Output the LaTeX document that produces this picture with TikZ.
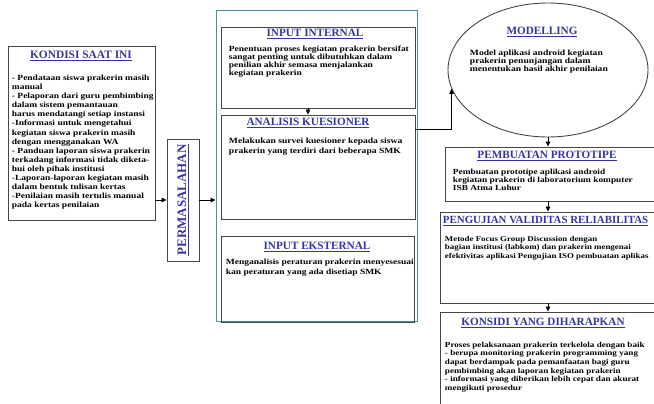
\documentclass[tikz,border=0pt]{standalone}
\usepackage{fontspec}
\setmainfont{Liberation Serif}
\newfontfamily\widefont[FakeStretch=1.2]{Liberation Serif}
\usetikzlibrary{shapes.geometric,arrows.meta}
\definecolor{ttlblue}{RGB}{52,52,165}
\definecolor{frameteal}{RGB}{70,145,160}
\definecolor{boxgray}{RGB}{70,70,70}
\tikzset{
  box/.style={draw=boxgray, line width=0.9pt, rectangle, inner sep=0pt},
  ttl/.style={text=ttlblue, font=\bfseries\fontsize{11.2}{12}\selectfont, inner sep=0.75pt},
  body/.style={anchor=north west, align=left, inner sep=0.75pt, font=\widefont\bfseries\fontsize{8}{8.2}\selectfont},
  arr/.style={draw=black, line width=0.7pt, -{Triangle[length=5pt,width=4.5pt]}}
}
\begin{document}
\begin{tikzpicture}[x=1pt,y=1pt,yscale=-1,xscale=1]
    \useasboundingbox (0,0) rectangle (654,404);
    \clip (0,0) rectangle (654,404);
    %Shape: Rectangle [kondisi]
    \node [box, minimum width=147pt, minimum height=174pt] (kondisi) at (81.5,133) {};
    %Shape: Rectangle [masalah]
    \node [box, minimum width=32pt, minimum height=122pt] (masalah) at (183,200) {};
    %Shape: Rectangle [outer frame]
    \node [draw=frameteal, line width=1pt, rectangle, inner sep=0pt, minimum width=201pt, minimum height=310pt] (frame) at (316.5,166) {};
    %Shape: Rectangle [internal]
    \node [box, minimum width=194pt, minimum height=81pt] (internal) at (318,67.5) {};
    %Shape: Rectangle [analisis]
    \node [box, minimum width=194pt, minimum height=104pt] (analisis) at (318,167) {};
    %Shape: Rectangle [eksternal]
    \node [box, minimum width=193pt, minimum height=86pt] (eksternal) at (317.5,279) {};
    %Shape: Ellipse [modelling]
    \node [ellipse, draw=boxgray, line width=0.9pt, inner sep=0pt, minimum width=200pt, minimum height=134pt] (modelling) at (548,70) {};
    %Shape: Rectangle [prototipe]
    \node [box, minimum width=217pt, minimum height=54pt] (prototipe) at (553.5,174) {};
    %Shape: Rectangle [pengujian]
    \node [box, minimum width=222pt, minimum height=91pt] (pengujian) at (551,257.5) {};
    %Shape: Rectangle [konsidi]
    \node [box, minimum width=222pt, minimum height=100pt] (konsidi) at (551,362) {};

    %Straight Lines
    \draw [arr] (kondisi.east |- masalah.west) -- (masalah.west);
    \draw [arr] (masalah.east) -- (masalah.east -| frame.west);
    \draw [arr] ([xshift=-10pt]internal.south) -- ([xshift=-10pt]internal.south |- analisis.north);
    \draw [arr] ([yshift=-38pt]analisis.east) -| (modelling.191);
    \draw [arr] (modelling.south) -- (modelling.south |- prototipe.north);
    \draw [arr] (modelling.south |- prototipe.south) -- (modelling.south |- pengujian.north);
    \draw [arr] (modelling.south |- pengujian.south) -- (modelling.south |- konsidi.north);

    % Text Node
    \node [ttl, font=\bfseries\fontsize{11.4}{12}\selectfont] (kondisittl) at (81,56) {\underline{KONDISI SAAT INI}};
    % Text Node
    \node [body, font=\widefont\bfseries\fontsize{7.9}{9.1}\selectfont] (kondisitxt) at (11,74) {- Pendataan siswa prakerin masih\\
    manual\\
    - Pelaporan dari guru pembimbing\\
    dalam sistem pemantauan\\
    harus mendatangi setiap instansi\\
    -Informasi untuk mengetahui\\
    kegiatan siswa prakerin masih\\
    dengan mengganakan WA\\
    - Panduan laporan siswa prakerin\\
    terkadang informasi tidak diketa-\\
    hui oleh pihak institusi\\
    -Laporan-laporan kegiatan masih\\
    dalam bentuk tulisan kertas\\
    -Penilaian masih tertulis manual\\
    pada kertas penilaian};
    % Text Node
    \node [ttl, rotate=90, font=\bfseries\fontsize{13}{14}\selectfont] (masalahttl) at (masalah) {\underline{PERMASALAHAN}};
    % Text Node
    \node [ttl] (internalttl) at (315,34) {\underline{INPUT INTERNAL}};
    % Text Node
    \node [body, font=\widefont\bfseries\fontsize{7.9}{7.9}\selectfont] (internaltxt) at (228,45) {Penentuan proses kegiatan prakerin bersifat\\
    sangat penting untuk dibutuhkan dalam\\
    penilian akhir semasa menjalankan\\
    kegiatan prakerin};
    % Text Node
    \node [ttl] (analisisttl) at (308,123) {\underline{ANALISIS KUESIONER}};
    % Text Node
    \node [body, font=\widefont\bfseries\fontsize{8}{10}\selectfont] (analisistxt) at (228,137) {Melakukan survei kuesioner kepada siswa\\
    prakerin yang terdiri dari beberapa SMK};
    % Text Node
    \node [body, font=\widefont\bfseries\fontsize{7.9}{10}\selectfont] (eksternaltxt) at (225,258) {Menganalisis peraturan prakerin menyesesuai\\
    kan peraturan yang ada disetiap SMK};
    % Text Node
    \node [ttl] (eksternalttl) at (317,247) {\underline{INPUT EKSTERNAL}};
    % Text Node
    \node [ttl] (modellingttl) at (542,32) {\underline{MODELLING}};
    % Text Node
    \node [body] (modellingtxt) at (469,49) {Model aplikasi android kegiatan\\
    prakerin penunjangan dalam\\
    menentukan hasil akhir penilaian};
    % Text Node
    \node [ttl] (prototipettl) at (547,156) {\underline{PEMBUATAN PROTOTIPE}};
    % Text Node
    \node [body, font=\widefont\bfseries\fontsize{7.8}{8.1}\selectfont] (prototipetxt) at (452,168) {Pembuatan prototipe aplikasi android\\
    kegiatan prakerin di laboratorium komputer\\
    ISB Atma Luhur};
    % Text Node
    \node [ttl, anchor=west, font=\bfseries\fontsize{10.9}{12}\selectfont] (pengujianttl) at (442,221) {\underline{PENGUJIAN VALIDITAS RELIABILITAS}};
    % Text Node
    \node [body, font=\widefont\bfseries\fontsize{7.4}{8.5}\selectfont] (pengujiantxt) at (444,235) {Metode Focus Group Discussion dengan\\
    bagian institusi (labkom) dan prakerin mengenai\\
    efektivitas aplikasi Pengujian ISO pembuatan aplikas};
    % Text Node
    \node [ttl] (konsidittl) at (543,323) {\underline{KONSIDI YANG DIHARAPKAN}};
    % Text Node
    \node [body, font=\widefont\bfseries\fontsize{7.6}{8.6}\selectfont] (konsiditxt) at (444,341) {Proses pelaksanaan prakerin terkelola dengan baik\\
    - berupa monitoring prakerin programming yang\\
    dapat berdampak pada pemanfaatan bagi guru\\
    pembimbing akan laporan kegiatan prakerin\\
    - informasi yang diberikan lebih cepat dan akurat\\
    mengikuti prosedur};
\end{tikzpicture}
\end{document}
